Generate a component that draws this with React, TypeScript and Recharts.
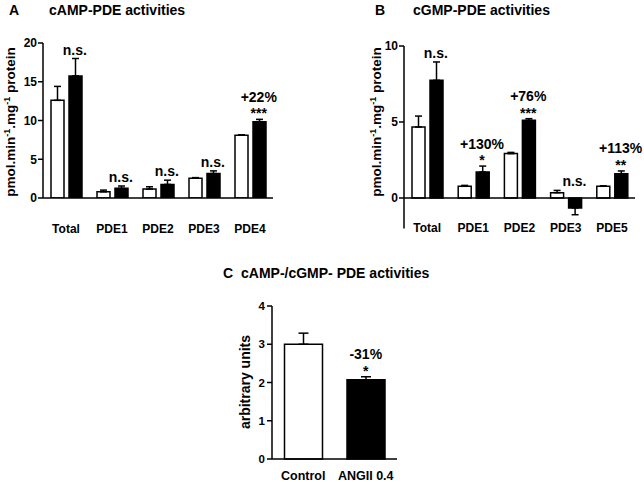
import React from "react";
import {
  BarChart,
  Bar,
  Cell,
  ErrorBar,
  ReferenceDot,
  ReferenceLine,
  XAxis,
  YAxis,
} from "recharts";

const FONT = '"Liberation Sans", Arial, Helvetica, sans-serif';

// A - cAMP-PDE activities (control = white, ANGII = black)
const campCats = ["Total", "PDE1", "PDE2", "PDE3", "PDE4"];
const campCtrl = [12.6, 0.8, 1.15, 2.55, 8.1];
const campCtrlErr = [1.8, 0.22, 0.3, 0.08, 0.06];
const campAng = [15.75, 1.25, 1.75, 3.15, 9.85];
const campAngErr = [2.25, 0.3, 0.55, 0.35, 0.3];
const campNotes = ["n.s.", "n.s.", "n.s.", "n.s.", "+22%"];
const campStars = ["", "", "", "", "***"];

// B - cGMP-PDE activities
const cgmpCats = ["Total", "PDE1", "PDE2", "PDE3", "PDE5"];
const cgmpCtrl = [4.67, 0.77, 2.92, 0.35, 0.77];
const cgmpCtrlErr = [0.72, 0.06, 0.08, 0.15, 0.03];
const cgmpAng = [7.74, 1.71, 5.11, -0.65, 1.6];
const cgmpAngErr = [1.21, 0.39, 0.11, 0.45, 0.18];
const cgmpNotes = ["n.s.", "+130%", "+76%", "n.s.", "+113%"];
const cgmpStars = ["", "*", "***", "", "**"];

// C - cAMP-/cGMP- ratio
const ratioCats = ["Control", "ANGII 0.4"];
const ratioVals = [3.0, 2.07];
const ratioErr = [0.29, 0.08];
const ratioNotes = ["", "-31%"];
const ratioStars = ["", "*"];

type Row = {
  cat: string;
  ctrl: number;
  ctrlErr: number[];
  ang: number;
  angErr: number[];
  top: number;
  note: string;
  stars: string;
};

function buildRows(
  cats: string[],
  ctrl: number[],
  ctrlErr: number[],
  ang: number[],
  angErr: number[],
  notes: string[],
  stars: string[]
): Row[] {
  return cats.map((cat, i) => ({
    cat,
    ctrl: ctrl[i],
    ctrlErr: ctrl[i] < 0 ? [ctrlErr[i], 0] : [0, ctrlErr[i]],
    ang: ang[i],
    angErr: ang[i] < 0 ? [angErr[i], 0] : [0, angErr[i]],
    top: Math.max(ctrl[i] + ctrlErr[i], ang[i] + angErr[i], 0),
    note: notes[i],
    stars: stars[i],
  }));
}

const campRows = buildRows(campCats, campCtrl, campCtrlErr, campAng, campAngErr, campNotes, campStars);
const cgmpRows = buildRows(cgmpCats, cgmpCtrl, cgmpCtrlErr, cgmpAng, cgmpAngErr, cgmpNotes, cgmpStars);
const ratioRows = ratioCats.map((cat, i) => ({
  cat,
  value: ratioVals[i],
  err: [0, ratioErr[i]],
  top: ratioVals[i] + ratioErr[i],
  note: ratioNotes[i],
  stars: ratioStars[i],
}));

const axisStyle = { stroke: "#000", strokeWidth: 1.5 };
const tickStyle = { fontSize: 12, fontWeight: "bold", fill: "#000", fontFamily: FONT };

function CatTick(props: any) {
  const { x, y, payload, shift, size } = props;
  return (
    <text
      x={x}
      y={y + shift + size * 0.36}
      textAnchor="middle"
      fontFamily={FONT}
      fontWeight="bold"
      fontSize={size}
      fill="#000"
    >
      {payload.value}
    </text>
  );
}

function Note(props: any) {
  const { viewBox, note, stars, dx } = props;
  const x = viewBox.x + dx;
  const y = viewBox.y;
  return (
    <g fontFamily={FONT} fontWeight="bold" fontSize={14} fill="#000" textAnchor="middle">
      {stars ? (
        <>
          <text x={x} y={y - 1}>{stars}</text>
          <text x={x} y={y - 17.5}>{note}</text>
        </>
      ) : (
        <text x={x} y={y - 4}>{note}</text>
      )}
    </g>
  );
}

// vertical axis titles, rotated around their centre
function SideLabel({ cx, cy, size, children }: { cx: number; cy: number; size: number; children: React.ReactNode }) {
  return (
    <div
      style={{
        position: "absolute",
        left: cx - 120,
        top: cy - 8,
        width: 240,
        height: 16,
        lineHeight: "16px",
        textAlign: "center",
        fontSize: size,
        fontWeight: "bold",
        whiteSpace: "nowrap",
        transform: "rotate(-90deg)",
      }}
    >
      {children}
    </div>
  );
}

const supStyle: React.CSSProperties = { fontSize: 9, verticalAlign: "super", lineHeight: 0 };

const unitText = (
  <>
    pmol.min<span style={supStyle}>-1</span>.mg<span style={supStyle}>-1</span> protein
  </>
);

type PdeProps = {
  rows: Row[];
  domain: number[];
  ticks: number[];
  top: number;
  height: number;
  axisW: number;
  right: number;
  xH: number;
  tickShift: number;
  zeroLine?: boolean;
};

function PdeChart(p: PdeProps) {
  return (
    <BarChart
      width={322}
      height={p.height}
      data={p.rows}
      margin={{ top: p.top, right: p.right, bottom: 0, left: 0 }}
      barCategoryGap={8}
      barGap={5}
    >
      <XAxis
        dataKey="cat"
        axisLine={p.zeroLine ? false : axisStyle}
        tickLine={false}
        tickSize={0}
        tickMargin={0}
        height={p.xH}
        interval={0}
        tick={<CatTick shift={p.tickShift} size={12} />}
      />
      <YAxis
        width={p.axisW}
        domain={p.domain}
        ticks={p.ticks}
        allowDataOverflow
        axisLine={axisStyle}
        tickLine={axisStyle}
        tickSize={5}
        tickMargin={1}
        tick={tickStyle}
      />
      {p.zeroLine && <ReferenceLine y={0} stroke="#000" strokeWidth={1.5} />}
      <Bar dataKey="ctrl" fill="#fff" stroke="#000" strokeWidth={1.5} isAnimationActive={false}>
        <ErrorBar dataKey="ctrlErr" width={3.5} stroke="#000" strokeWidth={1.5} direction="y" />
      </Bar>
      <Bar dataKey="ang" fill="#000" stroke="#000" strokeWidth={1.5} isAnimationActive={false}>
        <ErrorBar dataKey="angErr" width={3.5} stroke="#000" strokeWidth={1.5} direction="y" />
      </Bar>
      {p.rows
        .filter((r) => r.note)
        .map((r) => (
          <ReferenceDot
            key={r.cat}
            x={r.cat}
            y={r.top}
            r={0}
            fill="none"
            stroke="none"
            label={{
              content: (lp: any) => (
                <Note viewBox={lp.viewBox} note={r.note} stars={r.stars} dx={8.75} />
              ),
            }}
          />
        ))}
    </BarChart>
  );
}

const titleStyle: React.CSSProperties = {
  position: "absolute",
  fontSize: 14,
  lineHeight: "14px",
  fontWeight: "bold",
  whiteSpace: "nowrap",
};

export default function App() {
  return (
    <div
      style={{
        position: "absolute",
        left: 0,
        top: 0,
        width: 644,
        height: 482,
        background: "#fff",
        fontFamily: FONT,
        color: "#000",
      }}
    >
      <div style={{ ...titleStyle, left: 9, top: 3 }}>A</div>
      <div style={{ ...titleStyle, left: 49, top: 3 }}>cAMP-PDE activities</div>
      <div style={{ ...titleStyle, left: 375, top: 3 }}>B</div>
      <div style={{ ...titleStyle, left: 413, top: 3 }}>cGMP-PDE activities</div>
      <div style={{ ...titleStyle, left: 223, top: 266 }}>C</div>
      <div style={{ ...titleStyle, left: 241, top: 266 }}>cAMP-/cGMP- PDE activities</div>

      <div style={{ position: "absolute", left: 0, top: 0 }}>
        <PdeChart
          rows={campRows}
          domain={[0, 20]}
          ticks={[0, 5, 10, 15, 20]}
          top={43}
          height={240}
          axisW={43}
          right={49}
          xH={42}
          tickShift={30.8}
        />
      </div>

      <div style={{ position: "absolute", left: 322, top: 0 }}>
        <PdeChart
          rows={cgmpRows}
          domain={[-2, 10]}
          ticks={[0, 5, 10]}
          top={46}
          height={250}
          axisW={82}
          right={9}
          xH={21.6}
          tickShift={-1.1}
          zeroLine
        />
      </div>

      <div style={{ position: "absolute", left: 180, top: 280 }}>
        <BarChart
          width={250}
          height={202}
          data={ratioRows}
          margin={{ top: 26, right: 33, bottom: 0, left: 0 }}
          barCategoryGap={12.5}
        >
          <XAxis
            dataKey="cat"
            axisLine={axisStyle}
            tickLine={false}
            tickSize={0}
            tickMargin={0}
            height={23}
            interval={0}
            tick={<CatTick shift={16} size={12.5} />}
          />
          <YAxis
            width={92}
            domain={[0, 4]}
            ticks={[0, 1, 2, 3, 4]}
            axisLine={axisStyle}
            tickLine={axisStyle}
            tickSize={5}
            tickMargin={2}
            tick={{ ...tickStyle, fontSize: 11.5 }}
          />
          <Bar dataKey="value" stroke="#000" strokeWidth={1.5} isAnimationActive={false}>
            {ratioRows.map((r, i) => (
              <Cell key={r.cat} fill={i === 0 ? "#fff" : "#000"} />
            ))}
            <ErrorBar dataKey="err" width={5} stroke="#000" strokeWidth={1.5} direction="y" />
          </Bar>
          {ratioRows
            .filter((r) => r.note)
            .map((r) => (
              <ReferenceDot
                key={r.cat}
                x={r.cat}
                y={r.top}
                r={0}
                fill="none"
                stroke="none"
                label={{
                  content: (lp: any) => (
                    <Note viewBox={lp.viewBox} note={r.note} stars={r.stars} dx={0} />
                  ),
                }}
              />
            ))}
        </BarChart>
      </div>

      <SideLabel cx={10.5} cy={122} size={13.5}>{unitText}</SideLabel>
      <SideLabel cx={377} cy={122} size={13.5}>{unitText}</SideLabel>
      <SideLabel cx={245} cy={381.5} size={14}>arbitrary units</SideLabel>
    </div>
  );
}
